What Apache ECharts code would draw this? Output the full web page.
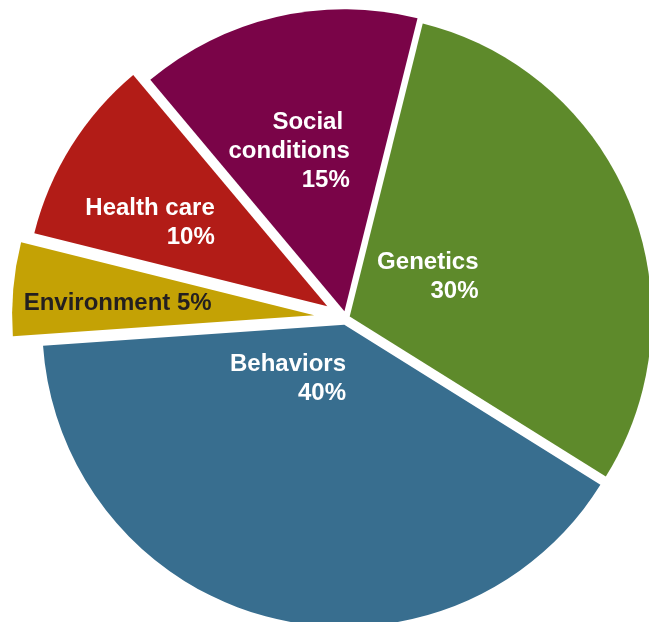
<!DOCTYPE html>
<html>
<head>
<meta charset="utf-8">
<script src="https://cdn.jsdelivr.net/npm/echarts@6/dist/echarts.min.js"></script>
<style>
  html, body { margin: 0; padding: 0; background: #ffffff; }
  #chart { width: 649px; height: 622px; }
</style>
</head>
<body>
<div id="chart"></div>
<script>
// Determinants of health: share of influence on premature death
const categories = ['Genetics', 'Behaviors', 'Environment', 'Health care', 'Social conditions'];
const shares = [30, 40, 5, 10, 15];
// How each category name is broken over lines in its label
const nameLines = [['Genetics'], ['Behaviors'], ['Environment'], ['Health care'], ['Social ', 'conditions']];

// Styling per slice
const sliceColors = ['#5e8a2b', '#386e8f', '#c4a205', '#b21c17', '#7a0448'];
const labelColors = ['#ffffff', '#ffffff', '#231f20', '#ffffff', '#ffffff'];
const explodeBy = [4, 7, 32, 22, 7];
const labelShift = [[-14, 18], [39, -95], [51, 2], [18, -2], [40, -10]];
const singleLineLabel = [false, false, true, false, false];

function labelText(i) {
  const pct = shares[i] + '%';
  if (singleLineLabel[i]) {
    return nameLines[i].join(' ') + ' ' + pct;
  }
  return nameLines[i].concat([pct]).join('\n');
}

// Each slice sits in its own pie layer so it can be pulled out by its own distance.
const series = categories.map(function (_, i) {
  return {
    type: 'pie',
    center: [346, 318],
    radius: 302,
    startAngle: 76,
    clockwise: true,
    selectedMode: 'multiple',
    selectedOffset: explodeBy[i],
    avoidLabelOverlap: false,
    silent: true,
    animation: false,
    labelLine: { show: false },
    emphasis: { disabled: true },
    labelLayout: function (p) {
      if (p.dataIndex !== i) return {};
      return { dx: labelShift[i][0], dy: labelShift[i][1], align: 'right' };
    },
    data: categories.map(function (name, j) {
      const own = j === i;
      return {
        name: name,
        value: shares[j],
        selected: own,
        itemStyle: { color: sliceColors[j], opacity: own ? 1 : 0, borderWidth: 0 },
        select: { itemStyle: { color: sliceColors[j], opacity: own ? 1 : 0, borderWidth: 0 } },
        label: {
          show: own,
          position: 'inside',
          formatter: labelText(j),
          color: labelColors[j],
          fontFamily: '"Liberation Sans", Arial, Helvetica, sans-serif',
          fontWeight: 'bold',
          fontSize: 24,
          lineHeight: 29,
          align: 'right'
        }
      };
    })
  };
});

const chart = echarts.init(document.getElementById('chart'), null, { renderer: 'canvas' });
chart.setOption({
  backgroundColor: '#ffffff',
  animation: false,
  series: series
});
</script>
</body>
</html>
